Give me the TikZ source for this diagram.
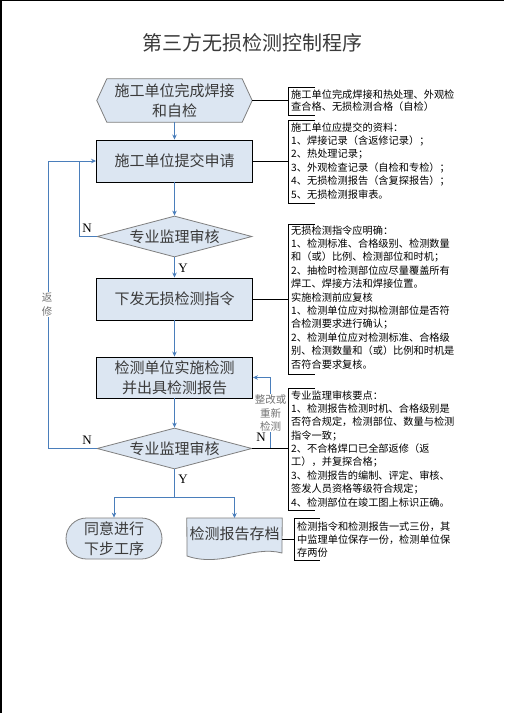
\documentclass[tikz,border=0pt]{standalone}
\usepackage{fontspec}
\setmainfont{Liberation Serif}
\newfontfamily\cjk{Noto Sans CJK SC}
\usetikzlibrary{shapes.geometric,shapes.misc,arrows.meta,backgrounds}
\definecolor{fillb}{HTML}{DCE6F2}
\definecolor{connb}{HTML}{4A7EBB}
\definecolor{bord}{HTML}{7F7F7F}
\definecolor{txt}{HTML}{3A3A3A}
\begin{document}
\begin{tikzpicture}[x=1pt,y=-1pt,
 conn/.style={draw=connb, line width=0.9pt, -{Stealth[length=5pt,width=4.5pt]}},
 connl/.style={draw=connb, line width=0.9pt},
 blk/.style={draw=black, line width=0.8pt},
 mainf/.style={font=\cjk\fontsize{15}{20}\selectfont, text=txt, align=center, inner sep=0pt},
 boxr/.style={mainf, rectangle, draw=black, line width=0.9pt, fill=fillb, minimum width=156pt, minimum height=42pt},
 dia/.style={mainf, diamond, draw=bord, line width=0.8pt, fill=fillb, aspect=3.78, minimum width=155pt, minimum height=41pt},
 notetext/.style={font=\cjk\fontsize{10.2}{13.4}\selectfont, inner sep=0pt, anchor=base west},
 yn/.style={font=\fontsize{13}{13}\selectfont, inner sep=0pt},
 smalllab/.style={font=\cjk\fontsize{10.5}{13.5}\selectfont, text=black!55, align=center, fill=white, inner sep=1pt},
]
\useasboundingbox (0,0) rectangle (504,713);
\draw[line width=1pt] (0,0.5) -- (504,0.5);
\draw[line width=2pt] (1,0) -- (1,713);

\node[font=\cjk\fontsize{20}{20}\selectfont, text=txt, inner sep=0pt] (title) at (252.5,43) {第三方无损检测控制程序};

% main shapes
\node[mainf, minimum width=155pt, minimum height=43pt] (hx) at (174.5,100.5) {施工单位完成焊接\\和自检};
\node[boxr] (r1) at (174.5,161) {施工单位提交申请};
\node[dia] (d1) at (174.5,236.5) {专业监理审核};
\node[boxr] (r2) at (174.5,299) {下发无损检测指令};
\node[boxr, minimum height=41pt] (r3) at (174.5,377.5) {检测单位实施检测\\并出具检测报告};
\node[dia] (d2) at (174.5,448.5) {专业监理审核};
\node[mainf, rounded rectangle, draw=bord, line width=0.8pt, fill=fillb, minimum width=96pt, minimum height=41pt] (tm) at (114,538.5) {同意进行\\下步工序};
\node[mainf, minimum width=95pt, minimum height=32pt, anchor=north] (dc) at (234.5,518) {检测报告存档};

\begin{scope}[on background layer]
\fill[white] (0,0) rectangle (504,713);
\draw[draw=bord, fill=fillb, line width=0.8pt] (hx.west) -- ([xshift=10pt]hx.north west) -- ([xshift=-10pt]hx.north east) -- (hx.east) -- ([xshift=-10pt]hx.south east) -- ([xshift=10pt]hx.south west) -- cycle;
\draw[draw=bord, fill=fillb, line width=0.8pt] (dc.north west) -- (dc.north east) -- (282,553) .. controls (252,545) and (222,568) .. (187,556) -- cycle;
\end{scope}

% coordinates
\coordinate (jl) at (79,161);
\coordinate (bl) at (48,161);
\coordinate (rj) at (270,448.5);
\coordinate (b1) at (288,100.5);
\coordinate (b2) at (288,161);
\coordinate (b3) at (288,299);
\coordinate (b4) at (288,448.5);
\coordinate (b5) at (294,539);

% flow connectors
\draw[conn] (hx.south) -- (r1.north);
\draw[conn] (r1.south) -- (d1.north);
\draw[conn] (d1.south) -- (r2.north);
\draw[conn] (r2.south) -- (r3.north);
\draw[conn] (r3.south) -- (d2.north);
\draw[connl] (d1.west) -| (jl);
\draw[connl] (d2.west) -| (bl);
\draw[conn] (bl) -- (r1.west);
\draw[conn] (rj) |- (r3.east);
\draw[conn] (d2.south) -- ++(0,28.5) -| (tm.north);
\draw[conn] (d2.south) -- ++(0,28.5) -| (dc.north);

% labels
\node[smalllab] (zg) at (270.5,413) {整改或\\重新\\检测};
\node[smalllab] (fx) at (47,304.5) {返\\修};
\node[yn] (n1) at (87,228) {N};
\node[yn] (y1) at (183,268) {Y};
\node[yn] (n2) at (87,440) {N};
\node[yn] (n3) at (261,437) {N};
\node[yn] (y2) at (183,479) {Y};

% brackets and their links
\draw[blk] (hx.east) -- (b1);
\draw[blk] (r1.east) -- (b2);
\draw[blk] (r2.east) -- (b3);
\draw[blk] (d2.east) -- (b4);
\draw[blk] (dc.east |- b5) -- (b5);
\draw[blk] (315,87) -- (288,87) -- (288,115) -- (315,115);
\draw[blk] (315,120) -- (288,120) -- (288,203) -- (315,203);
\draw[blk] (315,224) -- (288,224) -- (288,374) -- (315,374);
\draw[blk] (315,388) -- (288,388) -- (288,510) -- (315,510);
\draw[blk] (320,518) -- (294,518) -- (294,560) -- (320,560);

% note texts
\foreach \t [count=\i from 0] in {施工单位完成焊接和热处理、外观检, 查合格、无损检测合格（自检）}
  \node[notetext] (na\i) at (291, 98+12*\i) {\t};
\foreach \t [count=\i from 0] in {施工单位应提交的资料：, 1、焊接记录（含返修记录）；, 2、热处理记录；, 3、外观检查记录（自检和专检）；, 4、无损检测报告（含复探报告）；, 5、无损检测报审表。}
  \node[notetext] (nb\i) at (291, 131+13.4*\i) {\t};
\foreach \t [count=\i from 0] in {无损检测指令应明确：, 1、检测标准、合格级别、检测数量, 和（或）比例、检测部位和时机；, 2、抽检时检测部位应尽量覆盖所有, 焊工、焊接方法和焊接位置。, 实施检测前应复核, 1、检测单位应对拟检测部位是否符, 合检测要求进行确认；, 2、检测单位应对检测标准、合格级, 别、检测数量和（或）比例和时机是, 否符合要求复核。}
  \node[notetext] (nc\i) at (291, 234+13.4*\i) {\t};
\foreach \t [count=\i from 0] in {专业监理审核要点：, 1、检测报告检测时机、合格级别是, 否符合规定，检测部位、数量与检测, 指令一致；, 2、不合格焊口已全部返修（返, 工），并复探合格；, 3、检测报告的编制、评定、审核、, 签发人员资格等级符合规定；, 4、检测部位在竣工图上标识正确。}
  \node[notetext] (nd\i) at (291, 399+13.375*\i) {\t};
\foreach \t [count=\i from 0] in {检测指令和检测报告一式三份，其, 中监理单位保存一份，检测单位保, 存两份}
  \node[notetext] (ne\i) at (297, 530+13*\i) {\t};
\end{tikzpicture}
\end{document}
